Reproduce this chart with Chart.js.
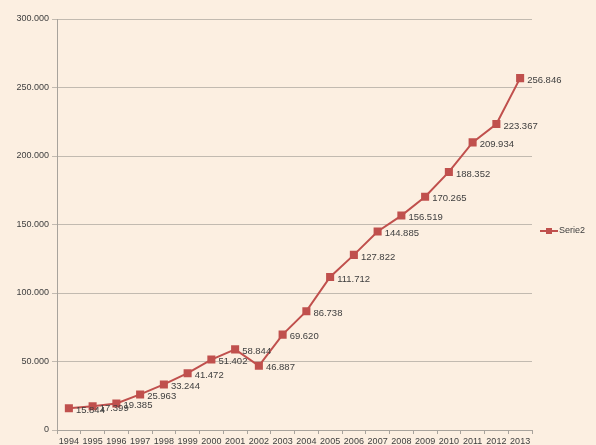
<!DOCTYPE html>
<html>
<head>
<meta charset="utf-8">
<script src="https://cdn.jsdelivr.net/npm/chart.js@4/dist/chart.umd.min.js"></script>
<style>
  html, body { margin: 0; padding: 0; background: #fcefe1; }
  #wrap { width: 596px; height: 445px; }
</style>
</head>
<body>
<div id="wrap"><canvas id="chart" width="596" height="445"></canvas></div>
<script>
// data
const years = ['1994','1995','1996','1997','1998','1999','2000','2001','2002','2003',
               '2004','2005','2006','2007','2008','2009','2010','2011','2012','2013'];
const serie2 = [15844, 17399, 19385, 25963, 33244, 41472, 51402, 58844, 46887, 69620,
                86738, 111712, 127822, 144885, 156519, 170265, 188352, 209934, 223367, 256846];
const yTicks = [0, 50000, 100000, 150000, 200000, 250000, 300000];
const seriesName = 'Serie2';

const red = '#c0504d';
const textColor = '#404040';
const fontFamily = '"Liberation Sans", Arial, sans-serif';

function fmt(v) {
    // 256846 -> 256.846
    return String(v).replace(/\B(?=(\d{3})+(?!\d))/g, '.');
}

// value labels next to each point
const pointLabels = {
    id: 'pointLabels',
    afterDatasetsDraw(chart) {
        const ctx = chart.ctx;
        const meta = chart.getDatasetMeta(0);
        ctx.save();
        ctx.font = '9.5px ' + fontFamily;
        ctx.fillStyle = textColor;
        ctx.textBaseline = 'middle';
        ctx.textAlign = 'left';
        meta.data.forEach((pt, i) => {
            ctx.fillText(fmt(serie2[i]), pt.x + 7, pt.y + 2);
        });
        ctx.restore();
    }
};

// excel style legend on the right
const sideLegend = {
    id: 'sideLegend',
    afterDraw(chart) {
        const ctx = chart.ctx;
        const x = 540, y = 231;
        ctx.save();
        ctx.strokeStyle = red;
        ctx.lineWidth = 2;
        ctx.beginPath();
        ctx.moveTo(x, y);
        ctx.lineTo(x + 18, y);
        ctx.stroke();
        ctx.fillStyle = red;
        ctx.fillRect(x + 6, y - 3, 6, 6);
        ctx.font = '9px ' + fontFamily;
        ctx.fillStyle = textColor;
        ctx.textBaseline = 'middle';
        ctx.fillText(seriesName, x + 19, y);
        ctx.restore();
    }
};

new Chart(document.getElementById('chart').getContext('2d'), {
    type: 'line',
    data: {
        labels: years,
        datasets: [{
            label: seriesName,
            data: serie2,
            borderColor: red,
            backgroundColor: red,
            borderWidth: 2,
            pointStyle: 'rect',
            pointRadius: 5.7,
            pointBorderWidth: 0,
            pointBackgroundColor: red,
            tension: 0
        }]
    },
    options: {
        responsive: false,
        animation: false,
        events: [],
        layout: { padding: { top: 19, right: 64, bottom: 0, left: 0 } },
        plugins: {
            legend: { display: false },
            tooltip: { enabled: false }
        },
        scales: {
            x: {
                offset: true,
                grid: {
                    offset: true,
                    drawOnChartArea: false,
                    drawTicks: true,
                    tickLength: 4,
                    color: '#a8a39c'
                },
                border: { color: '#a8a39c', width: 1 },
                ticks: {
                    color: textColor,
                    font: { family: fontFamily, size: 9 },
                    padding: 2,
                    maxRotation: 0,
                    autoSkip: false
                },
                afterFit(scale) { scale.height = 15; }
            },
            y: {
                min: 0,
                max: 300000,
                afterBuildTicks(scale) {
                    scale.ticks = yTicks.map(v => ({ value: v }));
                },
                grid: {
                    color: '#c2bab0',
                    tickLength: 5,
                    lineWidth: 1
                },
                border: { color: '#a8a39c', width: 1 },
                ticks: {
                    color: textColor,
                    font: { family: fontFamily, size: 9 },
                    padding: 3,
                    callback: v => fmt(v)
                },
                afterFit(scale) { scale.width = 57; }
            }
        }
    },
    plugins: [pointLabels, sideLegend]
});
</script>
</body>
</html>
